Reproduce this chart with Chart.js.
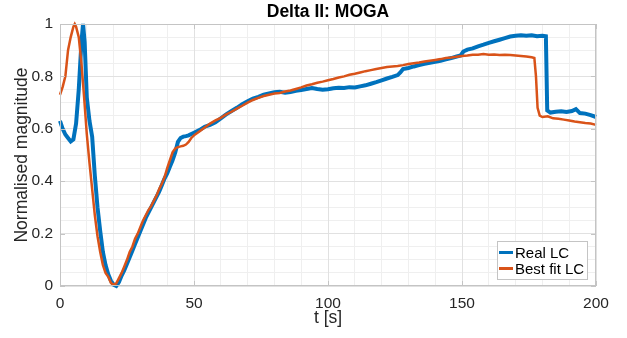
<!DOCTYPE html>
<html>
<head>
<meta charset="utf-8">
<script src="https://cdn.jsdelivr.net/npm/chart.js@4/dist/chart.umd.min.js"></script>
<style>
html,body{margin:0;padding:0;background:#fff;}
#wrap{width:627px;height:338px;position:relative;}
</style>
</head>
<body>
<div id="wrap"><canvas id="c" width="627" height="338"></canvas></div>
<script>
const chartTitle = "Delta II: MOGA";
const xLabel = "t [s]";
const yLabel = "Normalised magnitude";
const seriesNames = ["Real LC", "Best fit LC"];

const realT = [0,1,2,3,4,5,6,7,8,8.6,9.2,10,11,12,13,14,15,16,17,18,19,20,21,22,23,24,25,26,27,28,29,30,31,32,33,34,35,36,37,38,39,40,41,42,43,44,45,46,47,48,49,50,52,54,56,58,60,62,64,66,68,70,72,74,76,78,80,82,84,86,88,90,92,94,96,98,100,102,104,106,108,110,112,114,116,118,120,122,124,126,127,128,130,132,134,136,138,140,142,144,146,148,149.5,150.5,152,154,156,158,160,162,164,166,168,170,172,174,176,178,180,181.3,181.8,183,185,187,189,191,192.5,194,196,198,200];
const realLC = [0.63,0.60,0.578,0.565,0.552,0.56,0.62,0.75,0.93,1.0,0.93,0.72,0.63,0.57,0.42,0.30,0.21,0.13,0.08,0.045,0.02,0.005,0.0,0.015,0.04,0.06,0.085,0.11,0.135,0.16,0.185,0.21,0.235,0.26,0.28,0.30,0.32,0.34,0.36,0.385,0.41,0.43,0.455,0.48,0.51,0.55,0.565,0.57,0.572,0.575,0.58,0.585,0.595,0.608,0.615,0.625,0.64,0.655,0.668,0.68,0.694,0.705,0.715,0.722,0.73,0.735,0.74,0.741,0.738,0.74,0.745,0.748,0.752,0.756,0.752,0.749,0.751,0.755,0.757,0.756,0.759,0.758,0.762,0.766,0.772,0.778,0.785,0.792,0.798,0.805,0.815,0.828,0.832,0.838,0.843,0.848,0.852,0.856,0.86,0.865,0.87,0.876,0.88,0.895,0.902,0.907,0.915,0.921,0.928,0.934,0.94,0.946,0.952,0.955,0.957,0.955,0.957,0.953,0.955,0.953,0.67,0.662,0.665,0.667,0.664,0.668,0.675,0.66,0.658,0.652,0.645];

const fitT = [0,1,2,3,4,5,5.5,6,7,8,9,10,11,12,13,14,15,16,17,18,19,20,21,22,23,24,25,26,27,28,29,30,31,32,33,34,35,36,37,38,39,40,41,42,43,44,45,46,47,48,49,50,52,54,56,58,60,62,64,66,68,70,72,74,76,78,80,82,84,86,88,90,92,94,96,98,100,102,104,106,108,110,112,114,116,118,120,122,124,126,128,130,132,134,136,138,140,142,144,146,148,150,152,154,156,158,160,162,164,166,168,170,172,174,176,177,177.6,178.2,179,180,182,184,186,188,190,192,194,196,198,200];
const fitLC = [0.73,0.76,0.80,0.90,0.95,0.99,1.0,0.99,0.95,0.85,0.72,0.58,0.47,0.37,0.27,0.19,0.13,0.08,0.05,0.035,0.012,0.005,0.01,0.03,0.05,0.075,0.10,0.13,0.15,0.18,0.2,0.225,0.25,0.27,0.29,0.305,0.325,0.345,0.37,0.39,0.415,0.45,0.48,0.51,0.525,0.53,0.533,0.535,0.54,0.55,0.565,0.575,0.59,0.605,0.62,0.632,0.642,0.655,0.665,0.677,0.688,0.70,0.71,0.718,0.725,0.73,0.735,0.737,0.742,0.746,0.752,0.758,0.765,0.77,0.776,0.78,0.785,0.79,0.796,0.80,0.806,0.81,0.815,0.82,0.824,0.828,0.832,0.836,0.838,0.84,0.843,0.847,0.85,0.853,0.857,0.86,0.863,0.866,0.87,0.872,0.875,0.878,0.88,0.883,0.883,0.885,0.883,0.884,0.882,0.883,0.882,0.88,0.878,0.876,0.873,0.87,0.80,0.68,0.65,0.645,0.648,0.64,0.638,0.635,0.632,0.628,0.625,0.622,0.62,0.615];

const xMajorTicks = [0,50,100,150,200];
const yMajorTicks = [0,0.2,0.4,0.6,0.8,1];

const FONT = "'Liberation Sans', Arial, Helvetica, sans-serif";
const BOX = '#c4c4c4';
const TXT = '#262626';
const MAJOR = '#e1e1e1';
const MINOR = '#efefef';

const toXY = (ts, vs) => ts.map((t, i) => ({x: t, y: vs[i]}));

const decor = {
  id: 'decor',
  afterDraw(chart) {
    const ctx = chart.ctx, a = chart.chartArea;
    const xs = chart.scales.x, ys = chart.scales.y;
    ctx.save();
    ctx.strokeStyle = BOX; ctx.lineWidth = 1;
    ctx.strokeRect(a.left + 0.5, a.top + 0.5, a.right - a.left - 1, a.bottom - a.top - 1);
    ctx.beginPath();
    xMajorTicks.forEach(v => {
      const px = Math.round(xs.getPixelForValue(v)) + 0.5;
      ctx.moveTo(px, a.bottom); ctx.lineTo(px, a.bottom - 5);
      ctx.moveTo(px, a.top); ctx.lineTo(px, a.top + 5);
    });
    yMajorTicks.forEach(v => {
      const py = Math.round(ys.getPixelForValue(v)) + 0.5;
      ctx.moveTo(a.left, py); ctx.lineTo(a.left + 5, py);
      ctx.moveTo(a.right, py); ctx.lineTo(a.right - 5, py);
    });
    ctx.stroke();
    ctx.fillStyle = '#000';
    ctx.font = 'bold 17.5px ' + FONT;
    ctx.textAlign = 'center'; ctx.textBaseline = 'middle';
    ctx.fillText(chartTitle, (a.left + a.right) / 2, 12);
    ctx.fillStyle = TXT;
    ctx.font = '17.5px ' + FONT;
    ctx.fillText(xLabel, (a.left + a.right) / 2, 318);
    ctx.save();
    ctx.translate(22, (a.top + a.bottom) / 2);
    ctx.rotate(-Math.PI / 2);
    ctx.fillText(yLabel, 0, 0);
    ctx.restore();
    const lx = 497, ly = 241, lw = 90, lh = 38;
    ctx.fillStyle = '#fff';
    ctx.fillRect(lx, ly, lw, lh);
    ctx.strokeStyle = BOX;
    ctx.strokeRect(lx + 0.5, ly + 0.5, lw, lh);
    ctx.font = '15px ' + FONT;
    ctx.textAlign = 'left'; ctx.textBaseline = 'middle';
    chart.data.datasets.forEach((ds, i) => {
      const cy = ly + 11.5 + i * 16;
      ctx.strokeStyle = ds.borderColor;
      ctx.lineWidth = 3;
      ctx.beginPath(); ctx.moveTo(499, cy); ctx.lineTo(513, cy); ctx.stroke();
      ctx.fillStyle = '#000';
      ctx.fillText(ds.label, 515, cy + 1);
    });
    ctx.restore();
  }
};

new Chart(document.getElementById('c'), {
  type: 'line',
  data: {
    datasets: [
      {label: seriesNames[0], data: toXY(realT, realLC), borderColor: '#0072BD', borderWidth: 4, pointRadius: 0, tension: 0, order: 1, clip: 4},
      {label: seriesNames[1], data: toXY(fitT, fitLC), borderColor: '#D95319', borderWidth: 2.5, pointRadius: 0, tension: 0, order: 0, clip: 4}
    ]
  },
  options: {
    responsive: false,
    animation: false,
    devicePixelRatio: 1,
    layout: {padding: {top: 24, right: 31, left: 0, bottom: 0}},
    plugins: {legend: {display: false}, title: {display: false}, tooltip: {enabled: false}},
    scales: {
      xm: {
        type: 'linear', position: 'bottom', min: 0, max: 200,
        ticks: {stepSize: 10, display: false},
        grid: {drawTicks: false, color: c => (c.tick && c.tick.value % 50 === 0) ? 'rgba(0,0,0,0)' : MINOR},
        border: {display: false},
        afterFit: s => { s.height = 0; }
      },
      ym: {
        type: 'linear', position: 'left', min: 0, max: 1,
        ticks: {stepSize: 0.05, display: false},
        grid: {drawTicks: false, color: c => (c.tick && Math.abs(c.tick.value / 0.2 - Math.round(c.tick.value / 0.2)) < 1e-6) ? 'rgba(0,0,0,0)' : MINOR},
        border: {display: false},
        afterFit: s => { s.width = 0; }
      },
      x: {
        type: 'linear', position: 'bottom', min: 0, max: 200,
        afterBuildTicks: s => { s.ticks = xMajorTicks.map(v => ({value: v})); },
        ticks: {color: TXT, font: {family: FONT, size: 15.5}, padding: 8, maxRotation: 0, autoSkip: false, callback: v => String(v)},
        grid: {drawTicks: false, color: MAJOR},
        border: {display: false},
        afterFit: s => { s.height = 52; }
      },
      y: {
        type: 'linear', position: 'left', min: 0, max: 1,
        afterBuildTicks: s => { s.ticks = yMajorTicks.map(v => ({value: v})); },
        ticks: {color: TXT, font: {family: FONT, size: 15.5}, padding: 7, autoSkip: false, callback: v => String(Math.round(v * 10) / 10)},
        grid: {drawTicks: false, color: MAJOR},
        border: {display: false},
        afterFit: s => { s.width = 60; }
      }
    }
  },
  plugins: [decor]
});
</script>
</body>
</html>
